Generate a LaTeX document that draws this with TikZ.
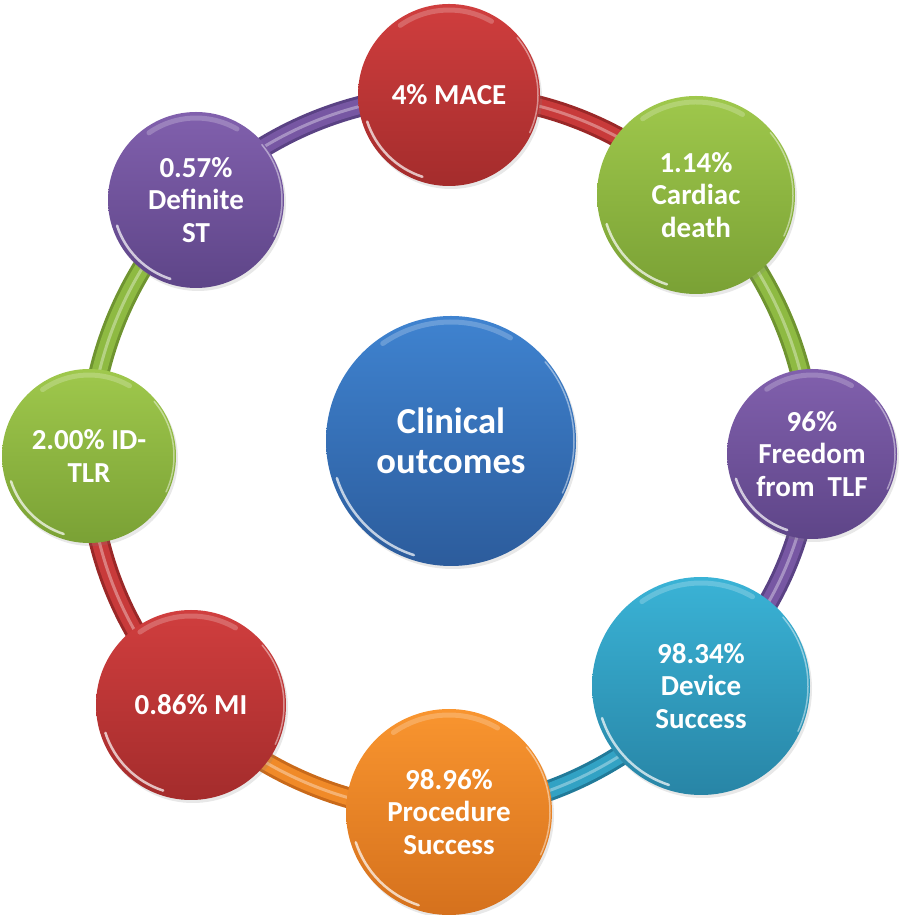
\documentclass[tikz,border=0pt]{standalone}
\usepackage{fontspec}
\setmainfont{Carlito}
\usetikzlibrary{shadows}
\pgfdeclarelayer{bg}
\pgfsetlayers{bg,main}

\definecolor{redT}{HTML}{D03E3E}
\definecolor{redB}{HTML}{A42C2C}
\definecolor{redD}{HTML}{9A2828}
\definecolor{redM}{HTML}{C83A3A}
\definecolor{grnT}{HTML}{9FC84C}
\definecolor{grnB}{HTML}{7AA135}
\definecolor{grnD}{HTML}{6F9430}
\definecolor{grnM}{HTML}{8EBA42}
\definecolor{purT}{HTML}{8160AD}
\definecolor{purB}{HTML}{5E4588}
\definecolor{purD}{HTML}{5A4284}
\definecolor{purM}{HTML}{7757A3}
\definecolor{cyaT}{HTML}{3AB3D6}
\definecolor{cyaB}{HTML}{2885A6}
\definecolor{cyaD}{HTML}{217A99}
\definecolor{cyaM}{HTML}{32A2C4}
\definecolor{orgT}{HTML}{F9952F}
\definecolor{orgB}{HTML}{D5711D}
\definecolor{orgD}{HTML}{C96A1A}
\definecolor{orgM}{HTML}{F08A28}
\definecolor{bluT}{HTML}{3F83D0}
\definecolor{bluB}{HTML}{2C5C9C}

\tikzset{
  ball/.style={circle, inner sep=0pt, text=white, align=center,
    font=\bfseries\fontsize{29}{32.5}\selectfont,
    drop shadow={shadow xshift=2pt, shadow yshift=-3pt, opacity=0.18}},
  bigball/.style={ball, font=\bfseries\fontsize{36.6}{40}\selectfont},
}

\newcommand\glossy[2]{%
  \draw[white, opacity=0.7, line width=2.5pt, line cap=round]
    (#1.center) ++(198:{#2-5}) arc[start angle=198, end angle=252, radius={#2-5}];
  \draw[white, opacity=0.22, line width=5pt, line cap=round]
    (#1.center) ++(60:{#2-6}) arc[start angle=60, end angle=125, radius={#2-6}];
  \draw[white, opacity=0.45, line width=1.5pt, line cap=round]
    (#1.center) ++(-25:{#2-2}) arc[start angle=-25, end angle=40, radius={#2-2}];
}

\newcommand\tubeseg[4]{%
  \draw[#3, line width=21pt] (#1.center) to[bend left=22.5, looseness=0.885] (#2.center);
  \draw[#4, line width=15pt] (#1.center) to[bend left=22.5, looseness=0.885] (#2.center);
  \draw[white, opacity=0.35, line width=3pt] (#1.center) to[bend left=22.5, looseness=0.885] (#2.center);
}

\begin{document}
\begin{tikzpicture}[x=1pt,y=1pt]
\useasboundingbox (0,0) rectangle (898,915);

\node[bigball, minimum size=250pt, top color=bluT, bottom color=bluB] (core) at (451,474) {Clinical\\outcomes};

\node[ball, minimum size=182pt, top color=redT, bottom color=redB] (mace) at (449,820) {4\% MACE};
\node[ball, minimum size=198pt, top color=grnT, bottom color=grnB] (card) at (696,720) {1.14\%\\Cardiac\\death};
\node[ball, minimum size=170pt, top color=purT, bottom color=purB] (tlf) at (812,461) {96\%\\Freedom\\from\ \ TLF};
\node[ball, minimum size=218pt, top color=cyaT, bottom color=cyaB] (dev) at (701,229) {98.34\%\\Device\\Success};
\node[ball, minimum size=206pt, top color=orgT, bottom color=orgB] (proc) at (449,103) {98.96\%\\Procedure\\Success};
\node[ball, minimum size=190pt, top color=redT, bottom color=redB] (mi) at (191,210) {0.86\% MI};
\node[ball, minimum size=174pt, top color=grnT, bottom color=grnB] (idtlr) at (89,459) {2.00\% ID-\\TLR};
\node[ball, minimum size=176pt, top color=purT, bottom color=purB] (st) at (196,715) {0.57\%\\Definite\\ST};

\glossy{core}{125}
\glossy{mace}{91}
\glossy{card}{99}
\glossy{tlf}{85}
\glossy{dev}{109}
\glossy{proc}{103}
\glossy{mi}{95}
\glossy{idtlr}{87}
\glossy{st}{88}

\begin{pgfonlayer}{bg}
  \tubeseg{mace}{card}{redD}{redM}
  \tubeseg{card}{tlf}{grnD}{grnM}
  \tubeseg{tlf}{dev}{purD}{purM}
  \tubeseg{dev}{proc}{cyaD}{cyaM}
  \tubeseg{proc}{mi}{orgD}{orgM}
  \tubeseg{mi}{idtlr}{redD}{redM}
  \tubeseg{idtlr}{st}{grnD}{grnM}
  \tubeseg{st}{mace}{purD}{purM}
\end{pgfonlayer}
\end{tikzpicture}
\end{document}
